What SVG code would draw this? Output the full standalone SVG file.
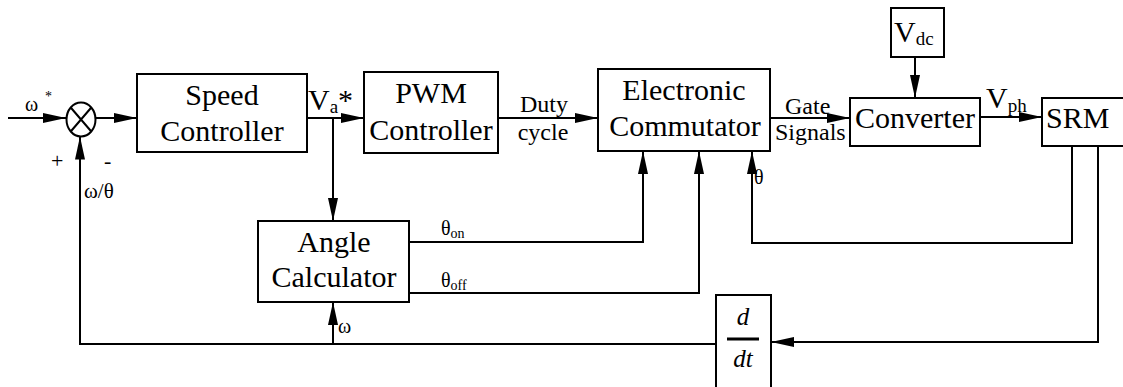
<svg xmlns="http://www.w3.org/2000/svg" width="1123" height="387" viewBox="0 0 1123 387" font-family="'Liberation Serif', 'DejaVu Serif', serif">
<style>
.box{fill:#fff;stroke:#000;stroke-width:2}
.ln{fill:none;stroke:#000;stroke-width:2}
.arr{marker-end:url(#ah)}
text{font-family:'Liberation Serif','DejaVu Serif',serif;fill:#000}
.big{font-size:30px}
.mid{font-size:24px}
.sm{font-size:20px}
.sub{font-size:19px}
.tiny{font-size:14px}
.c{text-anchor:middle}
</style>
<defs>
<marker id="ah" viewBox="0 0 23 10" markerWidth="23" markerHeight="10" refX="23" refY="5" orient="auto" markerUnits="userSpaceOnUse">
<path d="M0,0 L23,5 L0,10 z" fill="#000"/>
</marker>
</defs>
<rect width="1123" height="387" fill="#fff"/>
<g id="connectors">
<path class="ln arr" d="M8,118 H66"/>
<path class="ln arr" d="M95.5,118 H137"/>
<path class="ln arr" d="M307,118 H364"/>
<path class="ln arr" d="M333,118 V221"/>
<path class="ln arr" d="M498,118 H598"/>
<path class="ln arr" d="M770,118 H850"/>
<path class="ln arr" d="M980,117 H1042"/>
<path class="ln arr" d="M915,57 V98"/>
<path class="ln arr" d="M409,242 H643 V151"/>
<path class="ln arr" d="M409,293 H699 V151"/>
<path class="ln arr" d="M1072,146 V243 H752 V151"/>
<path class="ln arr" d="M1098,146 V342 H771"/>
<path class="ln arr" d="M716,344 H80 V136.5"/>
<path class="ln arr" d="M333,344 V302"/>
</g>
<g id="sum">
<ellipse cx="81" cy="119.5" rx="14.5" ry="17" class="box"/>
<path class="ln" d="M70.7,107.5 L91.3,131.5 M70.7,131.5 L91.3,107.5"/>
</g>
<g id="speed-controller">
<rect class="box" x="137" y="74" width="170" height="78"/>
<text class="big c" x="222" y="105">Speed</text>
<text class="big c" x="222" y="141">Controller</text>
</g>
<g id="pwm-controller">
<rect class="box" x="364" y="72" width="134" height="81"/>
<text class="big c" x="431" y="103">PWM</text>
<text class="big c" x="431" y="140">Controller</text>
</g>
<g id="electronic-commutator">
<rect class="box" x="598" y="69" width="172" height="82"/>
<text class="big c" x="684" y="100">Electronic</text>
<text class="big c" x="685" y="136">Commutator</text>
</g>
<g id="vdc">
<rect class="box" x="891" y="8" width="53" height="49"/>
<text class="big" x="894" y="42">V<tspan class="sub" dy="3">dc</tspan></text>
</g>
<g id="converter">
<rect class="box" x="850" y="98" width="130" height="48"/>
<text class="big c" x="915" y="128">Converter</text>
</g>
<g id="srm">
<rect class="box" x="1042" y="98" width="100" height="48"/>
<text class="big" x="1046" y="128">SRM</text>
</g>
<g id="angle-calculator">
<rect class="box" x="258" y="221" width="151" height="81"/>
<text class="big c" x="334" y="252">Angle</text>
<text class="big c" x="334" y="287">Calculator</text>
</g>
<g id="ddt">
<rect class="box" x="716" y="295" width="55" height="100"/>
<text x="743" y="325" class="c" style="font-size:25px;font-style:italic">d</text>
<rect x="727" y="337.5" width="32" height="3" fill="#000"/>
<text x="743" y="367" class="c" style="font-size:25px;font-style:italic">dt</text>
</g>
<g id="labels">
<text class="sm" x="25" y="111">ω</text>
<text class="tiny" x="45" y="101">*</text>
<text x="51" y="168" style="font-size:22px">+</text>
<text x="104" y="168" style="font-size:22px">-</text>
<text x="84" y="198" style="font-size:21px">ω/θ</text>
<text class="big" x="308" y="110">V<tspan class="sub" dy="3">a</tspan><tspan dy="-3">*</tspan></text>
<text class="mid c" x="544" y="112">Duty</text>
<text class="mid c" x="543" y="140">cycle</text>
<text class="mid" x="785" y="114">Gate</text>
<text class="mid" x="775" y="140">Signals</text>
<text class="big" x="986" y="108">V<tspan class="sub" dy="4">ph</tspan></text>
<text class="sm" x="754" y="184">θ</text>
<text class="sm" x="441" y="235">θ<tspan class="tiny" dy="3">on</tspan></text>
<text class="sm" x="441" y="287">θ<tspan class="tiny" dy="3">off</tspan></text>
<text class="sm" x="338" y="333">ω</text>
</g>
</svg>
